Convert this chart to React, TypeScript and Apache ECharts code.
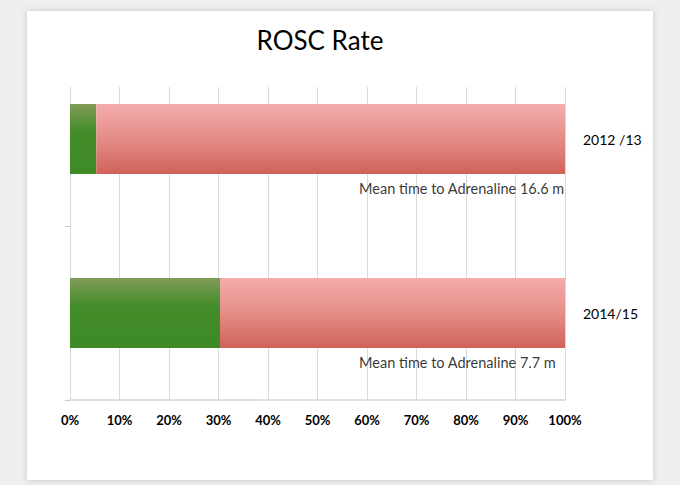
import React, { useEffect, useRef } from "react";
import * as echarts from "echarts";

const categories = ["2012 /13", "2014/15"];
const roscRate = [5.3, 30.3];
const noRosc = [94.7, 69.7];
const notes = ["Mean time to Adrenaline 16.6 m", "Mean time to Adrenaline 7.7 m"];
const NOTE_X = 58.4;

export default function App() {
  const ref = useRef<HTMLDivElement>(null);
  useEffect(() => {
    if (!ref.current) return;
    const chart = echarts.init(ref.current, undefined, { renderer: "svg" });
    const font = "Lato, 'Open Sans', sans-serif";
    const green = new echarts.graphic.LinearGradient(0, 0, 0, 1, [
      { offset: 0, color: "#829c58" },
      { offset: 0.4, color: "#428c2a" },
      { offset: 1, color: "#3e8a27" },
    ]);
    const red = new echarts.graphic.LinearGradient(0, 0, 0, 1, [
      { offset: 0, color: "#f3adac" },
      { offset: 0.5, color: "#e58c87" },
      { offset: 1, color: "#d0625a" },
    ]);
    chart.setOption({
      animation: false,
      backgroundColor: "#efefef",
      graphic: [
        {
          type: "rect",
          z: -100,
          shape: { x: 27, y: 11, width: 626, height: 469 },
          style: { fill: "#ffffff", shadowBlur: 6, shadowColor: "rgba(0,0,0,0.18)" },
        },
        {
          type: "rect",
          z: 100,
          shape: { x: 58, y: 46, width: 14, height: 14 },
          style: { fill: "#ffffff" },
        },
      ],
      title: {
        text: "ROSC Rate",
        left: 315,
        textAlign: "center",
        top: 22,
        textStyle: { fontFamily: font, fontSize: 26, fontWeight: "normal", color: "#000" },
      },
      grid: [
        { left: 70, right: 115, top: 52, bottom: 85 },
        { left: 70, right: 115, top: 87, bottom: 85 },
      ],
      xAxis: [
        { type: "value", gridIndex: 0, min: 0, max: 100, show: false },
        {
          type: "value",
          gridIndex: 1,
          min: 0,
          max: 100,
          interval: 10,
          axisLine: { show: true, lineStyle: { color: "#d4d4d4", width: 1.5 } },
          axisTick: { show: false },
          splitLine: { show: true, lineStyle: { color: "#d9d9d9", width: 1 } },
          axisLabel: {
            formatter: "{value}%",
            color: "#000",
            fontWeight: "bold",
            fontSize: 13,
            fontFamily: font,
            margin: 13,
          },
        },
      ],
      yAxis: [
        {
          type: "category",
          gridIndex: 0,
          inverse: true,
          position: "right",
          data: categories,
          axisLine: { show: false },
          axisTick: { show: false },
          axisLabel: { margin: 18, color: "#000", fontSize: 14, fontFamily: font, align: "left" },
        },
        {
          type: "category",
          gridIndex: 0,
          inverse: true,
          position: "left",
          data: categories,
          axisLine: { show: false },
          axisLabel: { show: false },
          axisTick: {
            show: true,
            length: 5,
            lineStyle: { color: "#c8c8c8" },
          },
        },
        { type: "value", gridIndex: 1, show: false },
      ],
      series: [
        {
          type: "bar",
          stack: "a",
          xAxisIndex: 0,
          yAxisIndex: 0,
          barWidth: 70,
          data: roscRate,
          itemStyle: { color: green },
        },
        {
          type: "bar",
          stack: "a",
          xAxisIndex: 0,
          yAxisIndex: 0,
          barWidth: 70,
          data: noRosc,
          itemStyle: { color: red },
        },
        {
          type: "scatter",
          xAxisIndex: 0,
          yAxisIndex: 0,
          symbolSize: 1,
          itemStyle: { color: "rgba(0,0,0,0)" },
          data: notes.map((_, i) => [NOTE_X, i]),
          label: {
            show: true,
            position: "inside",
            align: "left",
            offset: [0, 49],
            formatter: (p: any) => notes[p.dataIndex],
            color: "#000",
            fontSize: 14.5,
            fontFamily: font,
          },
        },
      ],
    });
    return () => chart.dispose();
  }, []);
  return (
    <div
      ref={ref}
      style={{ position: "fixed", left: 0, top: 0, width: 680, height: 485 }}
    />
  );
}
